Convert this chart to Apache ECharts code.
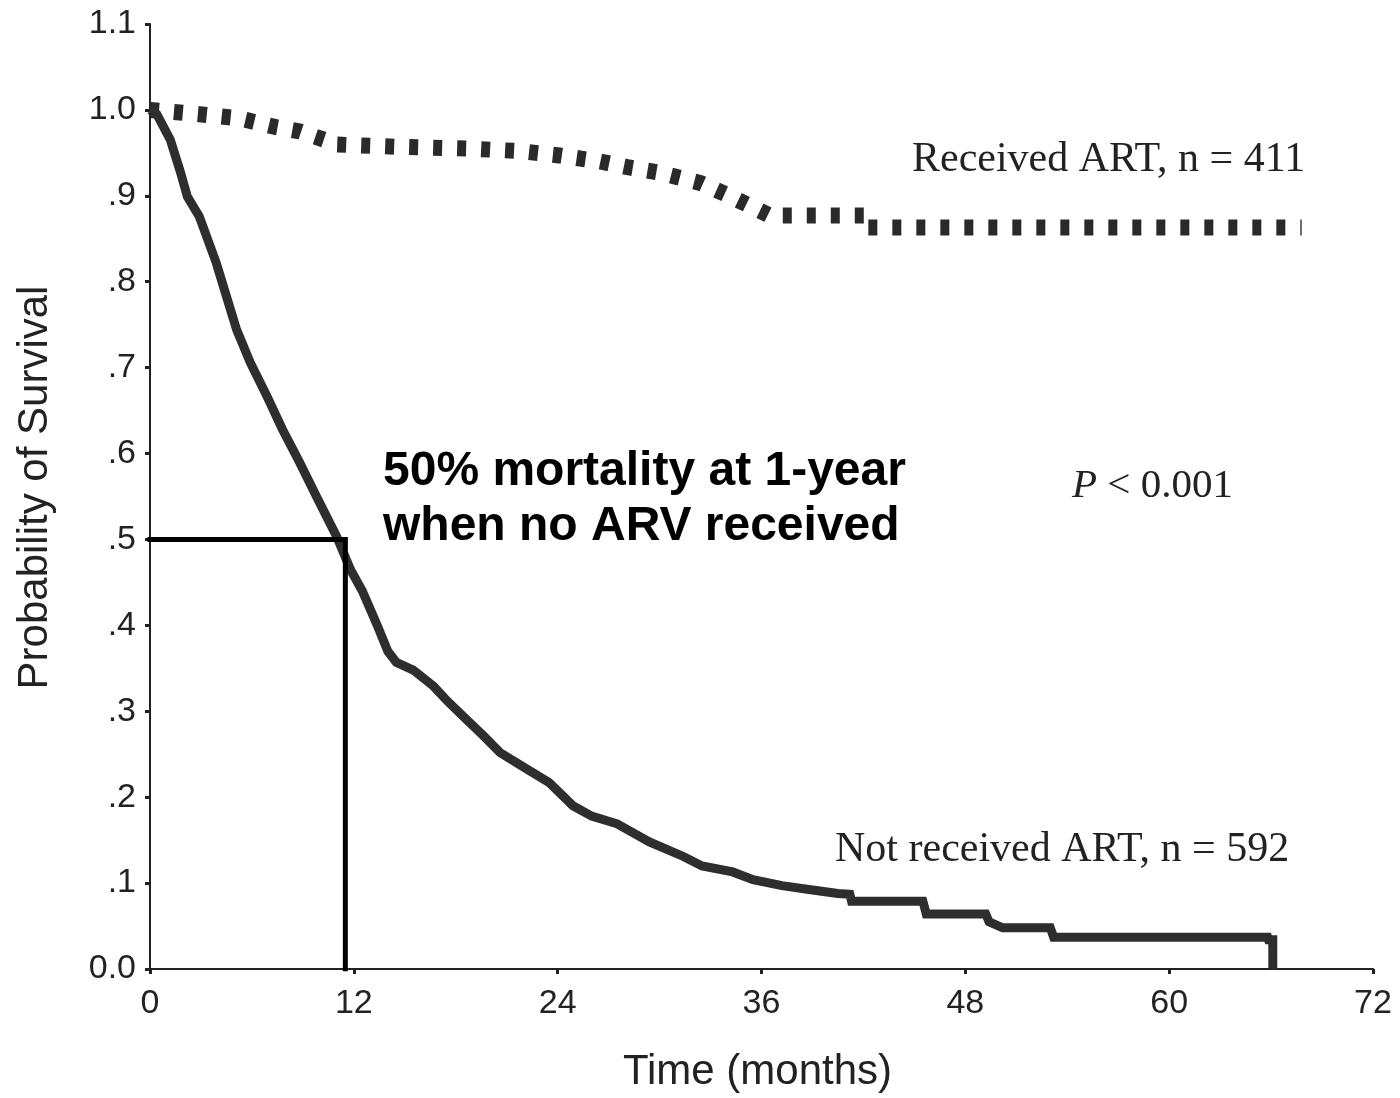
<!DOCTYPE html>
<html>
<head>
<meta charset="utf-8">
<script src="https://cdn.jsdelivr.net/npm/echarts@6/dist/echarts.min.js"></script>
<style>
html,body{margin:0;padding:0;background:#fff;}
#chart{width:1400px;height:1098px;}
</style>
</head>
<body>
<div id="chart"></div>
<script>
// Tick labels
const xTicks = [0, 12, 24, 36, 48, 60, 72];
const yTickLabels = ['0.0', '.1', '.2', '.3', '.4', '.5', '.6', '.7', '.8', '.9', '1.0', '1.1'];

// Received ART (time in months, survival probability)
const receivedTime = [0, 2.9, 5.3, 7.4, 8.8, 10.3, 10.6, 14.7, 18.8, 21.8, 24.1, 26.5, 28.2, 30.0, 32.4, 34.1, 36.5, 42.1, 42.2, 67.8];
const receivedSurv = [1.0, 0.995, 0.99, 0.98, 0.975, 0.965, 0.96, 0.957, 0.955, 0.952, 0.947, 0.94, 0.933, 0.927, 0.915, 0.9, 0.877, 0.877, 0.863, 0.863];

// Not received ART
const notReceivedTime = [0, 0.4, 1.2, 1.8, 2.2, 2.9, 3.9, 4.5, 5.1, 5.9, 6.9, 7.8, 8.8, 9.8, 11.0, 11.8, 12.5, 13.4, 14.0, 14.5, 15.5, 16.7, 17.5, 18.6, 19.6, 20.6, 22.0, 23.5, 24.9, 26.0, 27.5, 29.4, 31.4, 32.5, 34.3, 35.5, 37.2, 39.0, 40.5, 41.2, 41.3, 45.5, 45.7, 49.2, 49.4, 50.2, 53.0, 53.2, 65.8, 65.85, 66.1, 66.1];
const notReceivedSurv = [1.0, 0.995, 0.965, 0.927, 0.899, 0.876, 0.822, 0.783, 0.744, 0.706, 0.666, 0.628, 0.59, 0.55, 0.503, 0.465, 0.44, 0.399, 0.37, 0.357, 0.348, 0.329, 0.312, 0.291, 0.272, 0.252, 0.235, 0.217, 0.19, 0.178, 0.169, 0.148, 0.131, 0.12, 0.113, 0.104, 0.097, 0.092, 0.088, 0.087, 0.079, 0.079, 0.064, 0.064, 0.055, 0.048, 0.048, 0.037, 0.037, 0.034, 0.034, 0.0];

// 50% mortality reference
const refTime = [0, 11.5, 11.5];
const refSurv = [0.5, 0.5, 0];

const zip = (a, b) => a.map((v, i) => [v, b[i]]);

const chart = echarts.init(document.getElementById('chart'));
const axisFont = '"Liberation Sans", Arial, sans-serif';
const serif = '"Liberation Serif", "Times New Roman", serif';

chart.setOption({
  animation: false,
  backgroundColor: '#ffffff',
  grid: { left: 150, right: 27, top: 24, bottom: 128 },
  xAxis: {
    type: 'value', min: 0, max: 72, interval: 12,
    name: 'Time (months)', nameLocation: 'middle', nameGap: 82,
    nameTextStyle: { fontFamily: axisFont, fontSize: 42, color: '#222', padding: [0, 0, 0, -8] },
    axisLine: { show: true, onZero: false, lineStyle: { color: '#222', width: 2 } },
    axisTick: { show: true, length: 5, lineStyle: { color: '#222', width: 3 } },
    axisLabel: { fontFamily: axisFont, fontSize: 34, color: '#222', margin: 18,
      formatter: v => xTicks.includes(v) ? String(v) : '' },
    splitLine: { show: false }
  },
  yAxis: {
    type: 'value', min: 0, max: 1.1, interval: 0.1,
    name: 'Probability of Survival', nameLocation: 'middle', nameGap: 94, nameRotate: 90,
    nameTextStyle: { fontFamily: axisFont, fontSize: 42, color: '#222', padding: [0, 0, 0, 18] },
    axisLine: { show: true, lineStyle: { color: '#222', width: 2 } },
    axisTick: { show: true, length: 5, lineStyle: { color: '#222', width: 3 } },
    axisLabel: { fontFamily: axisFont, fontSize: 34, color: '#222', margin: 14,
      formatter: v => yTickLabels[Math.round(v * 10)] },
    splitLine: { show: false }
  },
  series: [
    {
      name: 'Received ART', type: 'line', data: zip(receivedTime, receivedSurv),
      showSymbol: false, symbol: 'none',
      lineStyle: { color: '#2a2a2a', width: 16, type: [9, 15], cap: 'butt' },
      z: 3
    },
    {
      name: 'Not received ART', type: 'line', data: zip(notReceivedTime, notReceivedSurv),
      showSymbol: false, symbol: 'none',
      lineStyle: { color: '#2e2e2e', width: 9, cap: 'butt', join: 'miter' },
      z: 3
    },
    {
      name: 'ref', type: 'line', data: zip(refTime, refSurv),
      showSymbol: false, symbol: 'none',
      lineStyle: { color: '#000', width: 5, cap: 'square', join: 'miter' },
      z: 4
    }
  ],
  graphic: [
    { type: 'text', left: 912, top: 139, style: { text: 'Received ART, n = 411', font: '42px ' + serif, fill: '#222' } },
    { type: 'text', left: 835, top: 829, style: { text: 'Not received ART, n = 592', font: '42px ' + serif, fill: '#222' } },
    { type: 'text', left: 1072, top: 466, style: { text: '{i|P} < 0.001', font: '41px ' + serif, fill: '#222',
        rich: { i: { fontStyle: 'italic', fontFamily: serif, fontSize: 41, fill: '#222' } } } },
    { type: 'text', left: 383, top: 448, style: { text: '50% mortality at 1-year', font: 'bold 48px ' + axisFont, fill: '#000' } },
    { type: 'text', left: 383, top: 503, style: { text: 'when no ARV received', font: 'bold 48px ' + axisFont, fill: '#000' } }
  ]
});
</script>
</body>
</html>
